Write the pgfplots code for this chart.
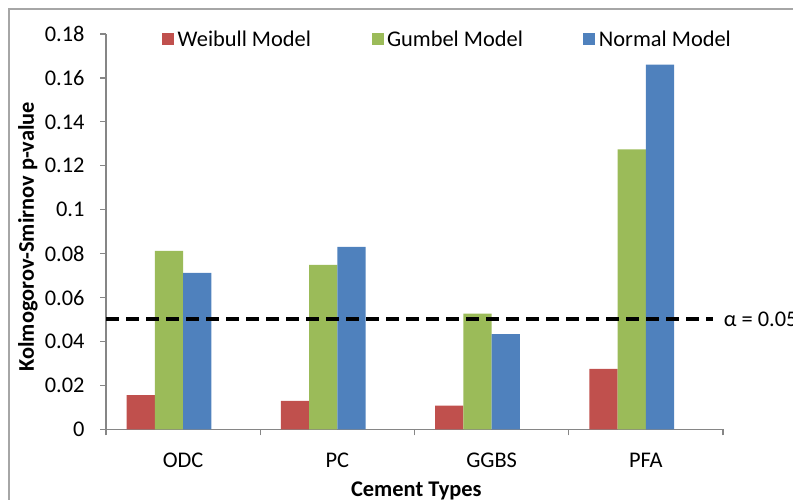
\documentclass[border=0pt]{standalone}
\usepackage{fontspec}
\setmainfont{Carlito}
\usepackage{pgfplots}
\usepackage{pgfplotstable}
\pgfplotsset{compat=1.18}
\definecolor{wred}{HTML}{C0504D}
\definecolor{ggreen}{HTML}{9BBB59}
\definecolor{nblue}{HTML}{4F81BD}
\definecolor{axgray}{HTML}{868686}
\definecolor{framegray}{HTML}{A6A6A6}
\pgfplotstableread{
x Weibull Gumbel Normal
0 0.0156 0.0812 0.0712
1 0.0129 0.0749 0.0831
2 0.0108 0.0527 0.0433
3 0.0275 0.1275 0.1660
}\datatable
\begin{document}
\begin{tikzpicture}
\begin{axis}[
  at={(106bp,70.7bp)}, anchor=south west,
  scale only axis, width=617bp, height=395.3bp,
  font=\fontsize{22.4bp}{27bp}\selectfont,
  xmin=-0.5, xmax=3.5, ymin=0, ymax=0.18,
  axis lines*=left,
  axis line style={axgray, line width=1.3bp},
  tick align=outside,
  major tick length=6bp,
  tick style={axgray, line width=1.3bp},
  xtick={-0.5,0.5,1.5,2.5,3.5}, xticklabels={},
  extra x ticks={0,1,2,3},
  extra x tick labels={ODC,PC,GGBS,PFA},
  extra x tick style={major tick length=0pt, xticklabel style={anchor=base, yshift=-38bp}},
  ytick={0,0.02,0.04,0.06,0.08,0.1,0.12,0.14,0.16,0.18},
  yticklabels={0,0.02,0.04,0.06,0.08,0.1,0.12,0.14,0.16,0.18},
  yticklabel style={anchor=east, xshift=-12bp},
  ylabel={\bfseries Kolmogorov-Smirnov p-value},
  ylabel style={at={(axis description cs:-0.1264,0.487)}, anchor=center, rotate=0},
  xlabel={\bfseries Cement Types},
  xlabel style={at={(axis description cs:0.503,-0.171)}, anchor=base},
  clip=false,
  legend columns=3,
  legend style={at={(rel axis cs:0.0908,0.987)}, anchor=west, draw=none, fill=none,
    inner sep=0pt, nodes={inner xsep=3.5bp, inner ysep=0pt},
    /tikz/every even column/.append style={column sep=57bp}},
  legend image code/.code={\fill[#1,draw=none] (0bp,-6bp) rectangle (12bp,6bp);},
]
\addplot[ybar, bar width=28.3bp, bar shift=-42.4bp, fill=wred, draw=none] table[x=x,y=Weibull]{\datatable};
\addlegendentry{Weibull Model}
\addplot[ybar, bar width=28.3bp, bar shift=-14.1bp, fill=ggreen, draw=none] table[x=x,y=Gumbel]{\datatable};
\addlegendentry{Gumbel Model}
\addplot[ybar, bar width=28.3bp, bar shift=14.1bp, fill=nblue, draw=none] table[x=x,y=Normal]{\datatable};
\addlegendentry{Normal Model}
\addplot[black, line width=4bp, dash pattern=on 13bp off 7bp, forget plot] coordinates {(-0.5,0.05) (3.434,0.05)}
  node[pos=1, anchor=west, inner sep=0pt, xshift=9bp, black] {α = 0.05};
\end{axis}
\pgfresetboundingbox
\useasboundingbox (0,0) rectangle (793bp,500bp);
\draw[framegray, line width=2bp] (9bp,-20bp) -- (9bp,491bp) -- (820bp,491bp);
\end{tikzpicture}
\end{document}
